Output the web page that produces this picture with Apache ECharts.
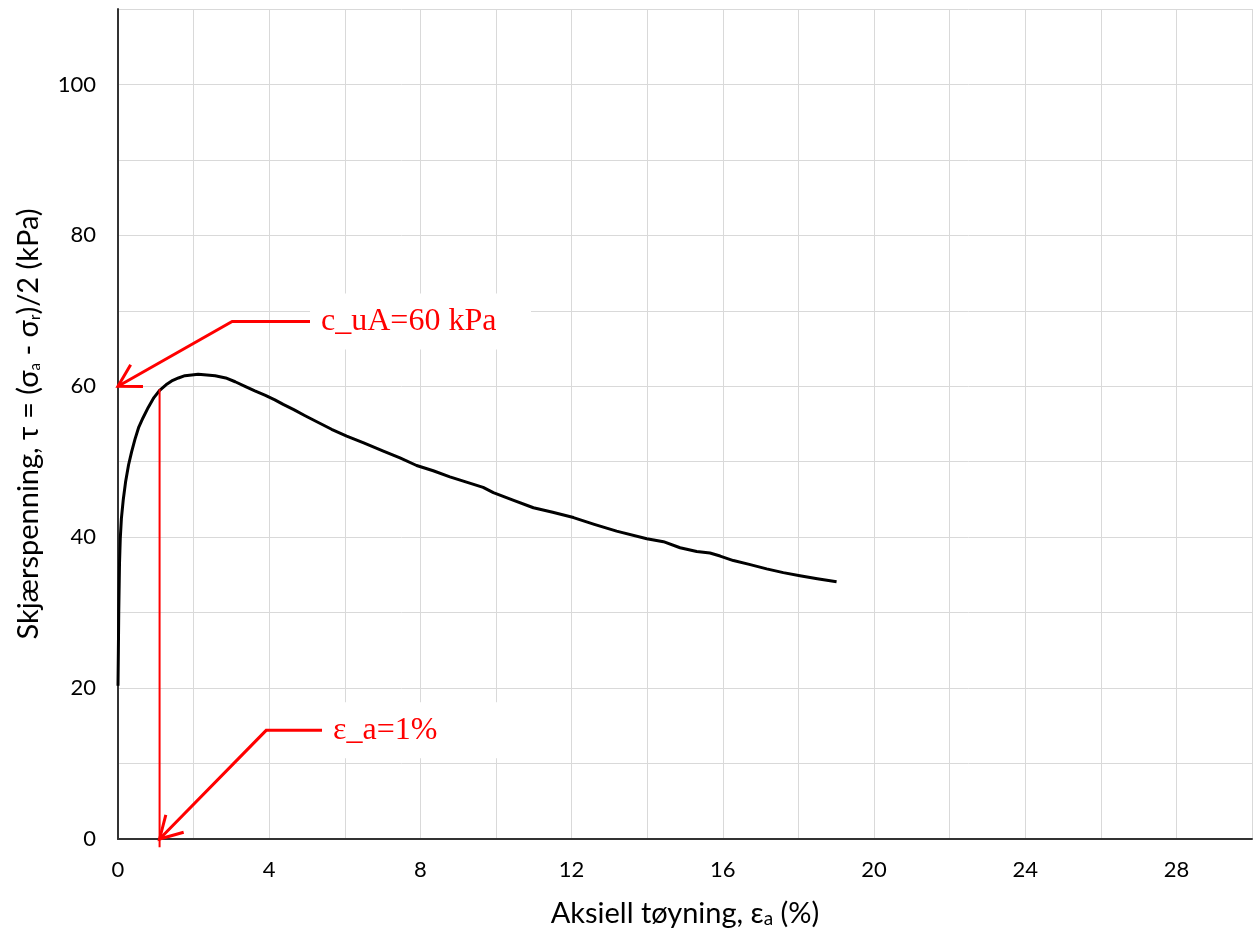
<!DOCTYPE html>
<html>
<head>
<meta charset="utf-8">
<script src="https://cdn.jsdelivr.net/npm/echarts@6/dist/echarts.min.js"></script>
<style>
html,body{margin:0;padding:0;background:#fff;}
#chart{width:1258px;height:933px;}
</style>
</head>
<body>
<div id="chart"></div>
<script>
// ---- data ----
const strain = [0, 0.01, 0.02, 0.04, 0.06, 0.09, 0.14, 0.20, 0.28, 0.36, 0.45, 0.55, 0.66, 0.80, 0.95, 1.11, 1.27, 1.42, 1.60, 1.77, 1.95, 2.12, 2.35, 2.57, 2.85, 3.10, 3.36, 3.62, 3.90, 4.15, 4.37, 4.65, 4.95, 5.26, 5.65, 6.05, 6.50, 7.02, 7.46, 7.90, 8.34, 8.78, 9.22, 9.66, 9.93, 10.45, 10.99, 11.50, 12.05, 12.60, 13.19, 13.99, 14.43, 14.87, 15.31, 15.66, 15.93, 16.28, 16.70, 17.16, 17.60, 18.04, 18.50, 19.01];
const shear  = [20.3, 25.0, 30.1, 36.5, 39.8, 42.5, 45.0, 47.3, 49.6, 51.3, 53.0, 54.6, 55.8, 57.2, 58.5, 59.5, 60.2, 60.7, 61.1, 61.4, 61.5, 61.6, 61.5, 61.4, 61.1, 60.6, 60.0, 59.4, 58.8, 58.2, 57.6, 56.9, 56.1, 55.3, 54.3, 53.4, 52.5, 51.4, 50.5, 49.5, 48.8, 48.0, 47.3, 46.6, 45.9, 44.9, 43.9, 43.3, 42.6, 41.7, 40.8, 39.8, 39.4, 38.6, 38.1, 37.9, 37.5, 36.9, 36.4, 35.8, 35.3, 34.9, 34.5, 34.1];
const xTickLabels = [0, 4, 8, 12, 16, 20, 24, 28];
const yTickLabels = [0, 20, 40, 60, 80, 100];

// annotations (data coordinates)
const annText   = ['c_uA=60 kPa', 'ε_a=1%'];
const annLabelX = [5.08, 5.40];
const annLabelY = [68.6, 14.4];
const annElbowX = [3.02, 3.92];
const annTipX   = [0, 1.1];
const annTipY   = [60, 0];
const vLineX = [1.1, 1.1];
const vLineY = [59.6, -1.1];

const chart = echarts.init(document.getElementById('chart'), null, {renderer: 'canvas'});
const curve = strain.map((x, i) => [x, shear[i]]);
const annData = annText.map((t, i) => [annLabelX[i], annLabelY[i], annElbowX[i], annTipX[i], annTipY[i], i]);

const labelFont = 'Lato, Carlito, "Liberation Sans", sans-serif';

function renderAnn(params, api) {
  const i = api.value(5);
  const p0 = api.coord([api.value(0), api.value(1)]);
  const el = api.coord([api.value(2), api.value(1)]);
  const tip = api.coord([api.value(3), api.value(4)]);
  const dx = el[0] - tip[0], dy = el[1] - tip[1];
  const len = Math.sqrt(dx*dx + dy*dy);
  const ux = dx/len, uy = dy/len;
  const L = 25, a = Math.PI/6;
  const rot = (ang) => [tip[0] + L*(ux*Math.cos(ang) - uy*Math.sin(ang)), tip[1] + L*(ux*Math.sin(ang) + uy*Math.cos(ang))];
  const arm1 = rot(a), arm2 = rot(-a);
  const children = [
    {type: 'polyline', shape: {points: [p0, el, tip]}, style: {stroke: '#ff0000', lineWidth: 3, fill: null}},
    {type: 'polyline', shape: {points: [arm1, tip, arm2]}, style: {stroke: '#ff0000', lineWidth: 3, fill: null}},
    {type: 'text', style: {
      text: annText[i], x: p0[0], y: p0[1], align: 'left', verticalAlign: 'middle',
      fill: '#ff0000', font: '32px "Liberation Serif", "Times New Roman", serif',
      backgroundColor: '#ffffff', padding: [12, 10, 12, 11], width: 200, lineHeight: 32
    }, z2: 10}
  ];
  if (i === 1) {
    const v0 = api.coord([vLineX[0], vLineY[0]]);
    const v1 = api.coord([vLineX[1], vLineY[1]]);
    children.push({type: 'line', shape: {x1: v0[0], y1: v0[1], x2: v1[0], y2: v1[1]}, style: {stroke: '#ff0000', lineWidth: 2}});
  }
  return {type: 'group', children};
}

const option = {
  animation: false,
  backgroundColor: '#ffffff',
  grid: {left: 118, right: 6, top: 9, bottom: 93, containLabel: false},
  xAxis: {
    type: 'value', min: 0, max: 30, interval: 2,
    axisLine: {show: true, onZero: false, lineStyle: {color: '#333', width: 2}},
    axisTick: {show: false},
    splitLine: {show: true, lineStyle: {color: '#d9d9d9', width: 1}},
    axisLabel: {
      fontFamily: labelFont, fontSize: 22, color: '#000', margin: 20,
      formatter: v => xTickLabels.includes(v) ? String(v) : ''
    },
    name: '{n|Aksiell tøyning, ε}{s|a}{n| (%)}',
    nameLocation: 'middle', nameGap: 55,
    nameTextStyle: {
      rich: {
        n: {fontFamily: labelFont, fontSize: 29, color: '#000', lineHeight: 34, verticalAlign: 'bottom'},
        s: {fontFamily: labelFont, fontSize: 19, color: '#000', lineHeight: 19, verticalAlign: 'bottom'}
      }
    }
  },
  yAxis: {
    type: 'value', min: 0, max: 110, interval: 10,
    axisLine: {show: true, lineStyle: {color: '#333', width: 2}},
    axisTick: {show: false},
    splitLine: {show: true, lineStyle: {color: '#d9d9d9', width: 1}},
    axisLabel: {
      fontFamily: labelFont, fontSize: 22, color: '#000', margin: 22,
      formatter: v => yTickLabels.includes(v) ? String(v) : ''
    },
    name: '{n|Skjærspenning, τ = (σ}{s|a}{n| - σ}{s|r}{n|)/2 (kPa)}',
    nameLocation: 'middle', nameGap: 75,
    nameTextStyle: {
      rich: {
        n: {fontFamily: labelFont, fontSize: 29, color: '#000', lineHeight: 34, verticalAlign: 'bottom'},
        s: {fontFamily: labelFont, fontSize: 15, color: '#000', lineHeight: 15, verticalAlign: 'bottom'}
      }
    }
  },
  series: [
    {
      type: 'line', data: curve, showSymbol: false, symbol: 'none', smooth: false,
      lineStyle: {color: '#000', width: 3, join: 'round'}, z: 3
    },
    {
      type: 'custom', data: annData, renderItem: renderAnn, clip: false, z: 5,
      silent: true
    }
  ]
};
chart.setOption(option);
</script>
</body>
</html>
